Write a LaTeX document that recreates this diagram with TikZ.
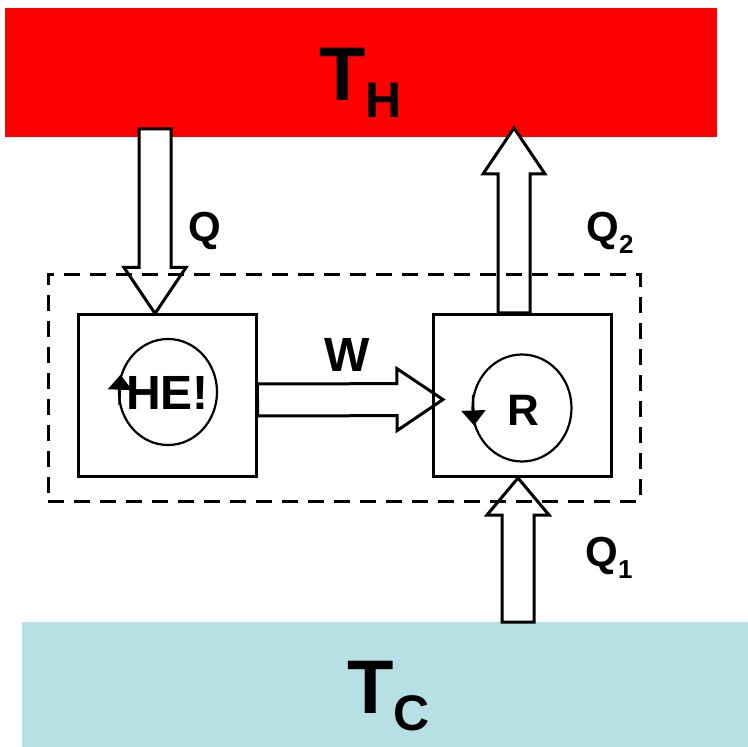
\documentclass[tikz,border=0pt]{standalone}
\usepackage{fontspec}
\setmainfont{Liberation Sans}
\usetikzlibrary{calc,shapes.geometric,arrows.meta,backgrounds}

\definecolor{hotred}{RGB}{255,0,0}
\definecolor{coldblue}{RGB}{183,224,228}

\newcommand{\bathsub}[1]{\raisebox{-8.5pt}{\fontsize{25}{25}\selectfont #1}}
\newcommand{\heatsub}[1]{\raisebox{-6pt}{\fontsize{13}{13}\selectfont #1}}

% hollow block arrow: [head length]{tail}{tip}
\newcommand{\fatarrow}[3][23pt]{%
  \path let \p1=($(#3)-(#2)$) in
    \pgfextra{\pgfmathparse{atan2(\y1,\x1)}\xdef\farot{\pgfmathresult}%
      \pgfmathparse{veclen(\x1,\y1)}\xdef\falen{\pgfmathresult}};
  \draw[fat, shift={(#2)}, rotate=\farot]
    (0pt,-8pt) -- ({\falen pt-#1},-8pt) -- ({\falen pt-#1},-15.5pt)
    -- (\falen pt,0pt) -- ({\falen pt-#1},15.5pt) -- ({\falen pt-#1},8pt)
    -- (0pt,8pt) -- cycle;}

\begin{document}
\begin{tikzpicture}[x=0.5pt, y=-0.5pt,
      bath/.style={rectangle, draw=none, inner sep=0pt},
      bathlbl/.style={anchor=base, inner sep=0pt, font=\fontsize{38}{38}\selectfont\bfseries},
      box/.style={rectangle, draw, line width=1.5pt, minimum width=89pt, minimum height=81pt},
      sysbox/.style={rectangle, draw, line width=1.5pt, dash pattern=on 8pt off 5pt, minimum width=296pt, minimum height=113pt},
      loop/.style={ellipse, draw, line width=1.1pt, inner sep=0pt, minimum width=49pt, minimum height=53pt},
      looparrow/.style={line width=1.1pt, -{Triangle[length=7.5pt, width=12pt]}},
      lbl/.style={inner sep=0pt, font=\fontsize{24}{24}\selectfont\bfseries},
      heat/.style={anchor=base, inner sep=0pt, font=\fontsize{21}{21}\selectfont\bfseries},
      fat/.style={draw, line width=1.5pt, fill=white, line join=miter}
  ]
  \useasboundingbox (0,0) rectangle (748,747);

  % Nodes
  \node[sysbox] (sys) at (344,388) {};
  \node[box] (he) at (167,396) {};
  \node[box] (r) at (522.5,395.5) {};
  \node[loop] (heloop) at (168,392) {};
  \node[loop, minimum width=49.5pt, minimum height=53.5pt] (rloop) at (522,408) {};
  \node[lbl] (helbl) at (167.5,393) {HE!};
  \node[lbl, font=\fontsize{22}{22}\selectfont\bfseries] (rlbl) at (523,410) {R};

  % Cycle directions
  \draw[looparrow] (heloop.195) -- (heloop.160);
  \draw[looparrow] (rloop.165) -- (rloop.200);

  % Labels
  \node[bathlbl] (th) at (360.5,101) {T\bathsub{H}};
  \node[bathlbl] (tc) at (388.5,713) {T\bathsub{C}};
  \node[heat] (q) at (205,242) {Q};
  \node[heat] (q2) at (610,242) {Q\heatsub{2}};
  \node[heat] (q1) at (609,566) {Q\heatsub{1}};
  \node[heat, font=\fontsize{24}{24}\selectfont\bfseries] (w) at (347.5,372) {W};

  % Arrow ends
  \coordinate (qsrc) at (155,129);
  \coordinate (q2end) at (514,128);
  \coordinate (q1src) at (518,622);
  \coordinate (wsrc) at ([yshift=-2pt]he.east);
  \coordinate (wdst) at ([xshift=5.5pt,yshift=-2pt]r.west);

  \begin{scope}[on background layer]
    % Reservoirs
    \node[bath, fill=hotred, minimum width=356pt, minimum height=64.5pt] (hot) at (361,72.5) {};
    \node[bath, fill=coldblue, minimum width=363pt, minimum height=62.5pt] (cold) at (385,684.5) {};

    % Arrows
    \fatarrow{qsrc}{qsrc |- he.north}
    \fatarrow{q2end |- r.north}{q2end}
    \fatarrow[18.5pt]{q1src}{q1src |- r.south}
    \fatarrow{wsrc}{wdst}
  \end{scope}

\end{tikzpicture}
\end{document}
